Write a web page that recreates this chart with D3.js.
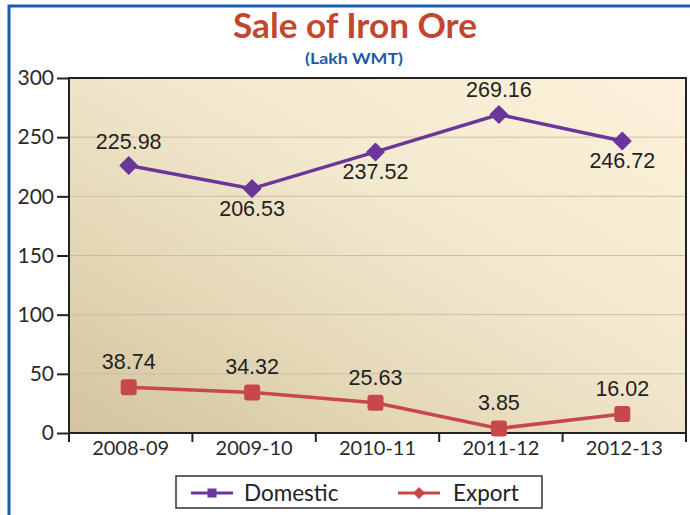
<!DOCTYPE html>
<html><head><meta charset="utf-8">
<script src="https://cdn.jsdelivr.net/npm/d3@7"></script>
<style>body{margin:0;background:#fff}svg{display:block}</style>
</head><body><svg id="c" width="690" height="515"></svg>
<script>
const categories = ["2008-09","2009-10","2010-11","2011-12","2012-13"];
const domestic = [225.98, 206.53, 237.52, 269.16, 246.72];
const exportVals = [38.74, 34.32, 25.63, 3.85, 16.02];
const domesticLabelPos = ["above","below","below","above","below"];
const yTicks = [0,50,100,150,200,250,300];
const seriesNames = ["Domestic","Export"];

const svg = d3.select("#c");
const L=69, R=686, T=78, B=433;
const font = "Lato, 'Open Sans', sans-serif";
const purple = "#6a3699", red = "#c8474b";

// frame
svg.append("rect").attr("x",9).attr("y",6).attr("width",720).attr("height",600)
  .attr("fill","none").attr("stroke","#1a5db0").attr("stroke-width",3);

// title
svg.append("text").attr("x",355).attr("y",38).attr("text-anchor","middle")
  .attr("font-family",font).attr("font-weight","bold").attr("font-size",34)
  .attr("fill","#c3472f").attr("textLength",244).attr("lengthAdjust","spacingAndGlyphs")
  .text("Sale of Iron Ore");
svg.append("text").attr("x",354).attr("y",64).attr("text-anchor","middle")
  .attr("font-family",font).attr("font-weight","bold").attr("font-size",16)
  .attr("fill","#1d5aa8").attr("textLength",98).attr("lengthAdjust","spacingAndGlyphs").text("(Lakh WMT)");

const x = d3.scaleBand().domain(categories).range([L,R]).padding(0);
const y = d3.scaleLinear().domain([0,300]).range([B,T]);
const cx = d => x(d) + x.bandwidth()/2 - 2;

// gradient
const defs = svg.append("defs");
const g = defs.append("linearGradient").attr("id","bg").attr("x1",0).attr("y1",1).attr("x2",1).attr("y2",0);
[[0,"#d3c49f"],[0.3,"#e4d8b7"],[0.6,"#f3e9cf"],[1,"#fdf1db"]].forEach(s=>g.append("stop").attr("offset",s[0]).attr("stop-color",s[1]));
svg.append("rect").attr("x",L).attr("y",T).attr("width",R-L).attr("height",B-T).attr("fill","url(#bg)");

// gridlines
svg.append("g").selectAll("line").data(yTicks.filter(t=>t>0&&t<300)).join("line")
  .attr("x1",L).attr("x2",R).attr("y1",d=>y(d)).attr("y2",d=>y(d))
  .attr("stroke","#c9bfa6").attr("stroke-width",1);

// plot border
svg.append("rect").attr("x",L).attr("y",T).attr("width",R-L).attr("height",B-T)
  .attr("fill","none").attr("stroke","#222").attr("stroke-width",2);

// y axis
const ya = svg.append("g").attr("transform",`translate(${L},0)`)
  .call(d3.axisLeft(y).tickValues(yTicks).tickSize(12).tickPadding(3));
ya.select(".domain").remove();
ya.selectAll("line").attr("stroke","#222").attr("stroke-width",2);
ya.selectAll("text").attr("font-family",font).attr("font-size",21).attr("fill","#2a2a2a");

// x axis
const xTickPos = categories.map(c=>x(c)).concat([R]);
svg.append("g").selectAll("line").data(xTickPos).join("line")
  .attr("x1",d=>d).attr("x2",d=>d).attr("y1",B).attr("y2",B+9)
  .attr("stroke","#222").attr("stroke-width",2);
svg.append("g").selectAll("text").data(categories).join("text")
  .attr("x",d=>x(d)+x.bandwidth()/2).attr("y",B+22).attr("text-anchor","middle")
  .attr("font-family",font).attr("font-size",20).attr("fill","#2a2a2a").text(d=>d);

const line = d3.line().x((d,i)=>cx(categories[i])).y(d=>y(d));

// domestic
svg.append("path").datum(domestic).attr("d",line).attr("fill","none")
  .attr("stroke",purple).attr("stroke-width",3.5);
svg.append("g").selectAll("path").data(domestic).join("path")
  .attr("d","M0,-8.5L8.5,0L0,8.5L-8.5,0Z")
  .attr("transform",(d,i)=>`translate(${cx(categories[i])},${y(d)})`)
  .attr("fill",purple).attr("stroke",purple).attr("stroke-width",1.5).attr("stroke-linejoin","round");
svg.append("g").selectAll("text").data(domestic).join("text")
  .attr("x",(d,i)=>cx(categories[i]))
  .attr("y",(d,i)=>y(d)+(domesticLabelPos[i]==="above"?-17:27))
  .attr("text-anchor","middle").attr("font-family","'Liberation Sans', Arial, sans-serif")
  .attr("font-size",21.5).attr("fill","#222").text(d=>d.toFixed(2));

// export
svg.append("path").datum(exportVals).attr("d",line).attr("fill","none")
  .attr("stroke",red).attr("stroke-width",3.5);
svg.append("g").selectAll("rect").data(exportVals).join("rect")
  .attr("x",(d,i)=>cx(categories[i])-8).attr("y",d=>y(d)-8)
  .attr("width",16).attr("height",16).attr("rx",3).attr("fill",red);
svg.append("g").selectAll("text").data(exportVals).join("text")
  .attr("x",(d,i)=>cx(categories[i]))
  .attr("y",d=>y(d)-18)
  .attr("text-anchor","middle").attr("font-family","'Liberation Sans', Arial, sans-serif")
  .attr("font-size",21.5).attr("fill","#222").text(d=>d.toFixed(2));

// legend
svg.append("rect").attr("x",176).attr("y",476).attr("width",366).attr("height",32)
  .attr("fill","#fff").attr("stroke","#333").attr("stroke-width",1.5);
const lg = svg.append("g");
lg.append("line").attr("x1",191).attr("x2",233).attr("y1",493).attr("y2",493).attr("stroke",purple).attr("stroke-width",3);
lg.append("rect").attr("x",207.5).attr("y",488.5).attr("width",9).attr("height",9).attr("fill",purple);
lg.append("text").attr("x",244).attr("y",501).attr("font-family",font).attr("font-size",22.5).attr("fill","#222").text(seriesNames[0]);
lg.append("line").attr("x1",398).attr("x2",440).attr("y1",493).attr("y2",493).attr("stroke",red).attr("stroke-width",3);
lg.append("path").attr("d","M0,-6L6,0L0,6L-6,0Z").attr("transform","translate(419,493)").attr("fill",red);
lg.append("text").attr("x",453).attr("y",501).attr("font-family",font).attr("font-size",22.5).attr("fill","#222").text(seriesNames[1]);
</script></body></html>
